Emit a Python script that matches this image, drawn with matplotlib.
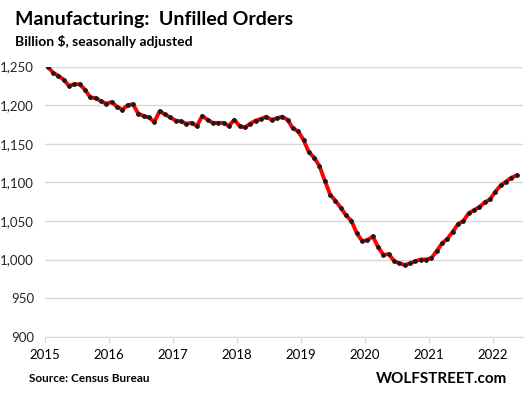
import numpy as np
import matplotlib
matplotlib.use("Agg")
import matplotlib.pyplot as plt
from matplotlib.ticker import FuncFormatter

plt.rcParams['font.family'] = ['Lato', 'DejaVu Sans']

# monthly unfilled orders, billion $, Jan 2015 .. May 2022
orders = [1250, 1242, 1238, 1233, 1225, 1227, 1227, 1220, 1210, 1209, 1205, 1202,
          1204, 1198, 1194, 1200, 1201, 1189, 1186, 1184, 1178, 1192, 1188, 1184,
          1180, 1179, 1176, 1177, 1173, 1186, 1181, 1177, 1177, 1177, 1173, 1181,
          1173, 1171, 1176, 1180, 1182, 1185, 1181, 1183, 1185, 1181, 1170, 1166,
          1155, 1139, 1132, 1121, 1102, 1084, 1076, 1067, 1057, 1050, 1034, 1024,
          1025, 1030, 1016, 1006, 1007, 998, 995, 993, 995, 998, 1000, 1000,
          1002, 1011, 1021, 1027, 1036, 1046, 1050, 1060, 1064, 1068, 1074, 1078,
          1088, 1096, 1101, 1106, 1109]
start_year = 2015
years = list(range(2015, 2023))
yticks = list(range(900, 1251, 50))

x = start_year + (np.arange(len(orders)) + 0.5) / 12.0

fig = plt.figure(figsize=(5.26, 3.98), dpi=100)
ax = fig.add_axes([45/526, 61.3/398, 478/526, 270.2/398])

ax.plot(x, orders, color='#ff0000', linewidth=2.8, zorder=3)
ax.plot(x, orders, linestyle='none', marker='o', markersize=2.4,
        color='#1a1a1a', zorder=4)

ax.set_xlim(2015, 2015 + 478/63.96)
ax.set_ylim(900, 1250)
ax.set_yticks(yticks)
ax.set_xticks(years)
ax.yaxis.set_major_formatter(FuncFormatter(lambda v, p: '{:,.0f}'.format(v)))
ax.grid(axis='y', color='#d9d9d9', linewidth=1.0)
ax.set_axisbelow(True)
for s in ['top', 'right', 'left']:
    ax.spines[s].set_visible(False)
ax.spines['bottom'].set_color('#d9d9d9')
ax.tick_params(axis='y', length=0, pad=8, labelsize=9.5, labelcolor='#262626')
ax.tick_params(axis='x', length=4, color='#d9d9d9', pad=5, labelsize=9.5,
               labelcolor='#000000')

fig.text(15/526, 1 - 19/398, 'Manufacturing:  Unfilled Orders', fontsize=14,
         fontweight='bold', va='center', ha='left')
fig.text(15/526, 1 - 41/398, 'Billion $, seasonally adjusted', fontsize=10,
         fontweight='bold', va='center', ha='left')
fig.text(29/526, 1 - 379/398, 'Source: Census Bureau', fontsize=8.5,
         fontweight='bold', va='center', ha='left')
fig.text(507/526, 1 - 379/398, 'WOLFSTREET.com', fontsize=11,
         fontweight='bold', va='center', ha='right')

fig.savefig('out.png', dpi=100)
